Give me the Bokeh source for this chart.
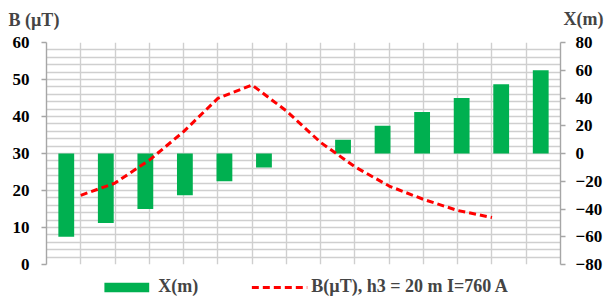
from bokeh.plotting import figure
from bokeh.models import (Range1d, LinearAxis, SingleIntervalTicker,
                          Grid, Legend, LegendItem, Label, ColumnDataSource)
from bokeh.embed import file_html
from bokeh.resources import INLINE

# ---- data ----
x_positions = [-60, -50, -40, -30, -20, -10, 0, 10, 20, 30, 40, 50, 60]   # X (m)
x_bar_values = [-60, -50, -40, -30, -20, -10, 0, 10, 20, 30, 40, 50, 60]  # bars, right axis
b_values = [18.7, 22.0, 28.2, 35.9, 44.9, 48.5, 41.5, 33.0, 26.4, 21.2, 17.6, 14.6, 12.7]  # B (uT)
left_axis_label = "B (µT)"
right_axis_label = "X(m)"
bar_legend = "X(m)"
line_legend = "B(µT), h3 = 20 m I=760 A"

FONT = "Liberation Serif"
GREEN = "#00B050"
RED = "#FF0000"
GRID = "#CFCFCF"
AXIS = "#A6A6A6"

p = figure(frame_width=514, frame_height=222, x_range=Range1d(-70, 80),
           y_range=Range1d(0, 60), output_backend="svg", toolbar_location=None,
           x_axis_location=None,
           min_border_left=46, min_border_right=48, min_border_top=42,
           min_border_bottom=0)
p.outline_line_color = None
p.background_fill_color = "white"
p.border_fill_color = "white"
p.extra_y_ranges = {"xr": Range1d(-80, 80)}
# bar category slots: 13 equal slots across the plot width
p.extra_x_ranges = {"bars": Range1d(-65, 65)}

p.xgrid.visible = False
p.ygrid.visible = False

hgrid = Grid(dimension=1, ticker=SingleIntervalTicker(interval=2),
             grid_line_color=GRID, grid_line_width=1.4)
vgrid = Grid(dimension=0, ticker=SingleIntervalTicker(interval=10),
             grid_line_color=GRID, grid_line_width=1.4)
p.add_layout(hgrid)
p.add_layout(vgrid)

def style_axis(ax):
    ax.axis_line_color = AXIS
    ax.axis_line_width = 1.4
    ax.major_tick_line_color = AXIS
    ax.major_tick_line_width = 1.4
    ax.major_tick_in = 0
    ax.major_tick_out = 5
    ax.minor_tick_line_color = None
    ax.major_label_text_font = FONT
    ax.major_label_text_font_style = "bold"
    ax.major_label_text_font_size = "17px"
    ax.major_label_text_color = "black"

ly = p.yaxis[0]
ly.ticker = SingleIntervalTicker(interval=10)
style_axis(ly)
ly.major_label_standoff = 12

ry = LinearAxis(y_range_name="xr", ticker=SingleIntervalTicker(interval=20))
style_axis(ry)
ry.major_label_standoff = 10
p.add_layout(ry, "right")

src = ColumnDataSource(dict(xm=x_positions, xb=x_bar_values, b=b_values))
bars = p.vbar(x="xm", top="xb", bottom=0, width=4, x_range_name="bars", y_range_name="xr",
              source=src, fill_color=GREEN, line_color=None)
line = p.line(x="xm", y="b", source=src, line_color=RED,
              line_width=3, line_dash="7 4")

legend = Legend(items=[LegendItem(label=bar_legend, renderers=[bars]),
                       LegendItem(label=line_legend, renderers=[line])],
                orientation="horizontal", location="top_center",
                glyph_width=56, glyph_height=12, label_standoff=4, spacing=53,
                padding=0, margin=12, border_line_color=None,
                background_fill_alpha=0,
                label_text_font=FONT, label_text_font_style="bold",
                label_text_font_size="18px")
p.add_layout(legend, "below")

lab_left = Label(x=-70, y=60, x_offset=-38, y_offset=23,
                 text=left_axis_label, text_font=FONT, text_font_style="bold",
                 text_font_size="18px", text_baseline="alphabetic", text_align="left")
lab_right = Label(x=80, y=60, x_offset=43, y_offset=24,
                  text=right_axis_label, text_font=FONT, text_font_style="bold",
                  text_font_size="18px", text_baseline="alphabetic", text_align="right")
p.add_layout(lab_left, "above")
p.add_layout(lab_right, "above")

open("out.html", "w").write(file_html(p, INLINE))
